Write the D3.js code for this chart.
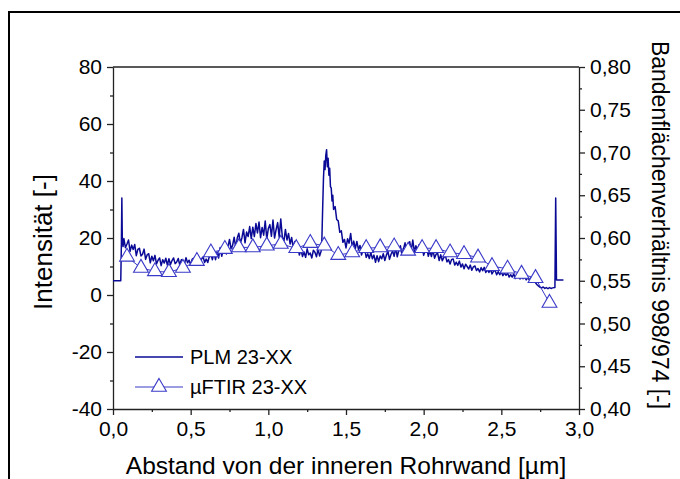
<!DOCTYPE html>
<html><head><meta charset="utf-8">
<script src="https://cdn.jsdelivr.net/npm/d3@7"></script>
<style>
html,body{margin:0;padding:0;background:#fff;}
svg{display:block;font-family:"Liberation Sans",Arial,sans-serif;}
</style></head>
<body><svg id="c" width="680" height="479"></svg>
<script>
// ---- data ----
const xTicks = [0,0.5,1,1.5,2,2.5,3];
const yLeftTicks = [-40,-20,0,20,40,60,80];
const yRightTicks = [0.40,0.45,0.50,0.55,0.60,0.65,0.70,0.75,0.80];
const seriesNames = ["PLM 23-XX","µFTIR 23-XX"];

const plmX = [0,0.05,0.054,0.057,0.060,0.065,
0.07,0.08,0.09,0.10,0.11,0.12,0.13,0.14,0.15,0.16,0.17,0.18,0.19,0.20,0.21,0.22,0.23,0.24,0.25,0.26,0.27,0.28,0.29,0.30,0.31,0.32,0.33,0.34,0.35,
0.36,0.37,0.38,0.39,0.40,0.41,0.42,0.43,0.44,0.45,0.46,0.47,0.48,0.49,0.50,0.51,0.52,0.53,0.54,0.55,0.56,0.57,0.58,0.59,0.60,0.61,0.62,0.63,0.64,0.65,
0.66,0.67,0.68,0.69,0.70,0.71,0.72,0.73,0.74,0.75,0.76,0.77,0.78,0.79,0.80,0.81,0.82,0.83,0.84,0.85,0.86,0.87,0.88,0.89,0.90,
0.91,0.92,0.93,0.94,0.95,0.96,0.97,0.98,0.99,1.00,1.01,1.02,1.03,1.04,1.05,1.06,1.07,1.08,1.09,1.10,1.11,1.12,
1.13,1.14,1.15,1.16,1.17,1.18,1.19,1.20,
1.21,1.22,1.23,1.24,1.25,1.26,1.27,1.28,1.29,1.30,1.31,1.32,1.33,1.34,
1.345,1.350,1.355,1.360,1.365,1.370,1.375,1.380,1.385,1.390,1.395,1.400,1.405,1.410,1.415,1.42,1.43,1.44,1.45,1.46,1.47,1.48,1.49,
1.50,1.51,1.52,1.53,1.54,1.55,1.56,1.57,1.58,1.59,1.60,1.61,1.62,1.63,1.64,1.65,1.66,1.67,1.68,1.69,1.70,
1.71,1.72,1.73,1.74,1.75,1.76,1.77,1.78,1.79,1.80,1.81,1.82,1.83,1.84,1.85,1.86,1.87,1.88,1.89,1.90,
1.91,1.92,1.93,1.94,1.95,1.96,1.97,1.98,1.99,2.00,2.01,2.02,2.03,2.04,2.05,2.06,2.07,2.08,2.09,2.10,
2.11,2.12,2.13,2.14,2.15,2.16,2.17,2.18,2.19,2.20,2.21,2.22,2.23,2.24,2.25,2.26,2.27,2.28,2.29,2.30,
2.31,2.32,2.33,2.34,2.35,2.36,2.37,2.38,2.39,2.40,2.41,2.42,2.43,2.44,2.45,2.46,2.47,2.48,2.49,2.50,
2.51,2.52,2.53,2.54,2.55,2.56,2.57,2.58,2.59,2.60,2.61,2.62,2.63,2.64,2.65,2.66,2.67,2.68,2.69,2.70,
2.71,2.72,2.73,2.74,2.75,2.76,2.77,2.78,2.79,2.80,2.81,2.82,2.83,2.845,2.850,2.855,2.90];

const plmY = [5,5,18,34,19,17,
19.8,16.6,17.9,19.3,15.3,17.5,16.0,17.7,13.8,16.0,16.4,13.7,14.3,16.1,12.5,14.1,14.5,11.3,13.6,12.0,13.9,10.9,12.2,13.0,10.3,12.4,11.2,12.9,10.5,
12.7,10.7,12.1,13.0,11.0,11.6,12.8,10.5,12.4,11.9,10.9,13.1,11.3,12.2,10.6,12.6,12.9,11.1,11.7,12.8,11.0,12.6,13.4,11.4,12.6,11.4,13.5,14.2,12.4,14.8,
12.4,15.1,13.0,16.7,13.6,16.0,17.8,14.4,16.9,19.5,16.2,17.4,20.3,16.6,20.0,21.7,18.1,20.1,23.0,18.3,22.1,20.5,24.0,19.8,23.8,
20.5,25.1,21.8,25.6,20.1,23.7,21.0,26.0,19.7,23.3,24.7,20.6,26.3,20.0,22.9,25.4,20.3,26.7,20.4,18.7,23.0,19.3,
21.6,17.9,20.2,16.5,18.8,15.2,16.9,14.0,
15.9,13.5,15.1,13.2,16.2,14.1,14.7,13.0,15.7,15.0,13.4,16.1,13.7,15.4,
20,31,41,47,44,49,51,45,48,42,44.5,38,37.5,33,35,30,31,26.5,26,22,22.5,18.5,19.5,
16.5,19.7,18.2,21.6,16.8,18.9,16.3,18.8,16.0,17.4,14.0,15.9,16.3,13.2,14.5,12.8,14.9,12.7,14.0,11.5,13.8,
11.7,13.7,12.7,14.5,12.1,14.0,15.3,12.5,14.3,15.4,13.6,16.5,13.4,15.7,17.3,14.2,16.2,18.3,14.7,18.0,
18.7,15.6,19.3,15.1,17.3,15.4,17.6,15.1,16.8,13.9,15.6,16.3,13.6,15.4,13.5,15.8,12.9,14.3,14.6,12.1,
14.1,12.0,13.2,13.8,11.6,12.4,10.9,12.5,12.6,10.5,11.5,10.4,11.9,9.8,10.9,9.2,10.8,10.0,9.1,10.5,
8.7,9.9,10.2,8.6,9.3,8.1,9.6,8.5,9.7,7.9,8.9,7.9,9.1,7.4,8.4,8.6,7.1,8.2,7.1,8.1,
6.8,7.8,6.9,7.7,6.3,7.1,6.3,7.4,5.8,6.6,6.8,5.6,6.5,5.7,6.5,5.3,6.0,5.3,6.1,5.3,
5.5,4.3,3.6,3.1,2.7,2.5,2.8,2.3,2.6,2.2,2.6,2.3,2.5,2.6,34,5.3,5.3];

const ftirX = [0.09,0.18,0.27,0.36,0.45,0.54,0.63,0.72,0.81,0.90,0.99,1.08,1.18,1.27,1.36,1.45,1.54,1.63,1.72,1.81,1.90,1.99,2.08,2.17,2.26,2.35,2.44,2.54,2.63,2.72,2.81];
const ftirY = [0.578,0.565,0.561,0.560,0.565,0.573,0.583,0.587,0.589,0.589,0.591,0.593,0.588,0.594,0.591,0.580,0.583,0.588,0.589,0.590,0.585,0.588,0.588,0.583,0.581,0.577,0.567,0.564,0.558,0.553,0.524];

// ---- drawing ----
const svg = d3.select("#c");
const L=113,R=579,T=67,B=409;
const x = d3.scaleLinear([0,3],[L,R]);
const yL = d3.scaleLinear([-40,80],[B,T]);
const yR = d3.scaleLinear([0.4,0.8],[B,T]);
const cPLM = "#0a0a96", cFT = "#3a3ac8";

// outer frame
svg.append("rect").attr("x",9).attr("y",12).attr("width",700).attr("height",500)
  .attr("fill","none").attr("stroke","#000").attr("stroke-width",2);

const fmtL = d => String(d);
const fmtR = d => d.toFixed(2).replace(".",",");
const fmtX = d => d.toFixed(1).replace(".",",");

function styleAxis(g, fs){
  g.selectAll("path.domain").attr("stroke","#222").attr("stroke-width",1.3);
  g.selectAll(".tick line").attr("stroke","#222").attr("stroke-width",1.3);
  g.selectAll("text").attr("font-size",fs).attr("fill","#000").attr("font-family","Liberation Sans, Arial, sans-serif");
}
const minorX = [0.25,0.75,1.25,1.75,2.25,2.75];
const minorL = [-30,-10,10,30,50,70];
const minorR = [0.425,0.475,0.525,0.575,0.625,0.675,0.725,0.775];

const gx = svg.append("g").attr("transform",`translate(0,${B})`)
  .call(d3.axisBottom(x).tickValues(xTicks).tickFormat(fmtX).tickSize(6).tickSizeOuter(0).tickPadding(6));
styleAxis(gx,21);
svg.append("g").attr("transform",`translate(0,${B})`)
  .call(d3.axisBottom(x).tickValues(minorX).tickFormat("").tickSize(3).tickSizeOuter(0))
  .call(g=>{g.select(".domain").remove(); g.selectAll("line").attr("stroke","#222").attr("stroke-width",1.3);});

const gl = svg.append("g").attr("transform",`translate(${L},0)`)
  .call(d3.axisLeft(yL).tickValues(yLeftTicks).tickFormat(fmtL).tickSize(6).tickSizeOuter(0).tickPadding(5));
styleAxis(gl,21);
svg.append("g").attr("transform",`translate(${L},0)`)
  .call(d3.axisLeft(yL).tickValues(minorL).tickFormat("").tickSize(3).tickSizeOuter(0))
  .call(g=>{g.select(".domain").remove(); g.selectAll("line").attr("stroke","#222").attr("stroke-width",1.3);});

const gr = svg.append("g").attr("transform",`translate(${R},0)`)
  .call(d3.axisRight(yR).tickValues(yRightTicks).tickFormat(fmtR).tickSize(6).tickSizeOuter(0).tickPadding(5));
styleAxis(gr,21);
svg.append("g").attr("transform",`translate(${R},0)`)
  .call(d3.axisRight(yR).tickValues(minorR).tickFormat("").tickSize(3).tickSizeOuter(0))
  .call(g=>{g.select(".domain").remove(); g.selectAll("line").attr("stroke","#222").attr("stroke-width",1.3);});

svg.append("line").attr("x1",L).attr("x2",R).attr("y1",T).attr("y2",T).attr("stroke","#222").attr("stroke-width",1.3);

// PLM line
const plm = plmX.map((v,i)=>[v,plmY[i]]);
svg.append("path").datum(plm)
  .attr("d", d3.line().x(d=>x(d[0])).y(d=>yL(d[1])))
  .attr("fill","none").attr("stroke",cPLM).attr("stroke-width",1.5).attr("stroke-linejoin","round");

// FTIR line + triangles
const ft = ftirX.map((v,i)=>[v,ftirY[i]]);
svg.append("path").datum(ft)
  .attr("d", d3.line().x(d=>x(d[0])).y(d=>yR(d[1])))
  .attr("fill","none").attr("stroke",cFT).attr("stroke-width",1);
const tri = d3.symbol().type(d3.symbolTriangle).size(95);
svg.append("g").selectAll("path").data(ft).join("path")
  .attr("d",tri).attr("transform",d=>`translate(${x(d[0])},${yR(d[1])})`)
  .attr("fill","#fff").attr("stroke",cFT).attr("stroke-width",1.1);

// legend
const lg = svg.append("g");
lg.append("line").attr("x1",135).attr("x2",183).attr("y1",357).attr("y2",357).attr("stroke",cPLM).attr("stroke-width",1.5);
lg.append("text").attr("x",190).attr("y",364).attr("font-size",20).text(seriesNames[0]);
lg.append("line").attr("x1",135).attr("x2",183).attr("y1",387).attr("y2",387).attr("stroke",cFT).attr("stroke-width",1.2);
lg.append("path").attr("d",tri).attr("transform","translate(159,387)").attr("fill","#fff").attr("stroke",cFT).attr("stroke-width",1.1);
lg.append("text").attr("x",190).attr("y",394).attr("font-size",20).text(seriesNames[1]);

// titles
svg.append("text").attr("x",346).attr("y",474).attr("text-anchor","middle").attr("font-size",24.5)
  .text("Abstand von der inneren Rohrwand [µm]");
svg.append("text").attr("transform","translate(52,242) rotate(-90)").attr("text-anchor","middle").attr("font-size",26)
  .text("Intensität [-]");
svg.append("text").attr("transform","translate(652,225) rotate(90)").attr("text-anchor","middle").attr("font-size",23)
  .text("Bandenflächenverhältnis 998/974 [-]");
</script></body></html>
